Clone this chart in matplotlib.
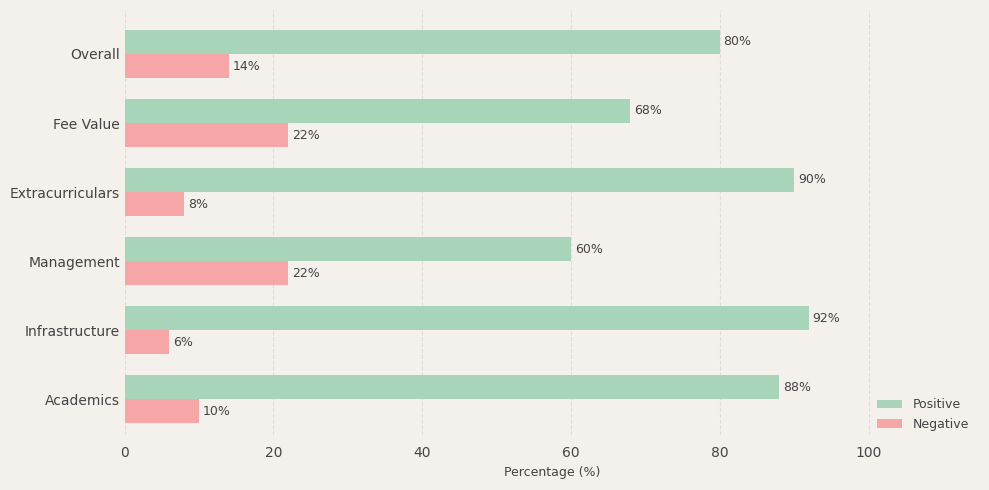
import numpy as np
import matplotlib.pyplot as plt

categories = ["Academics", "Infrastructure", "Management", "Extracurriculars", "Fee Value", "Overall"]
positive = [88, 92, 60, 90, 68, 80]
negative = [10, 6, 22, 8, 22, 14]

bg = "#f4f0ec"
txt = "#444444"
fig = plt.figure(figsize=(9.89, 4.9), dpi=100, facecolor=bg)
ax = fig.add_axes([0.126, 0.112, 0.865, 0.868], facecolor=bg)

y = np.arange(len(categories))
h = 0.35
ax.barh(y + h / 2, positive, height=h, color="#a8d5ba", label="Positive")
ax.barh(y - h / 2, negative, height=h, color="#f6a6a6", label="Negative")

for yi, p, n in zip(y, positive, negative):
    ax.text(p + 0.5, yi + h / 2, f"{p}%", va="center", ha="left", fontsize=9, color=txt)
    ax.text(n + 0.5, yi - h / 2, f"{n}%", va="center", ha="left", fontsize=9, color=txt)

ax.set_yticks(y)
ax.set_yticklabels(categories, fontsize=10, color=txt)
ax.set_xticks([0, 20, 40, 60, 80, 100])
ax.tick_params(axis="x", labelsize=10, colors=txt, length=0, pad=8)
ax.tick_params(axis="y", length=0, pad=3.5)
ax.set_xlim(0, 115)
ax.set_ylim(-0.52, 5.64)
ax.set_xlabel("Percentage (%)", fontsize=9, color=txt)
ax.grid(axis="x", linestyle="--", color="#e0dcd8", linewidth=0.8)
ax.set_axisbelow(True)
for s in ax.spines.values():
    s.set_visible(False)

leg = ax.legend(loc="lower right", bbox_to_anchor=(1.0, -0.016), frameon=False, fontsize=9)
for t in leg.get_texts():
    t.set_color(txt)

fig.savefig("out.png", dpi=100, facecolor=bg)
